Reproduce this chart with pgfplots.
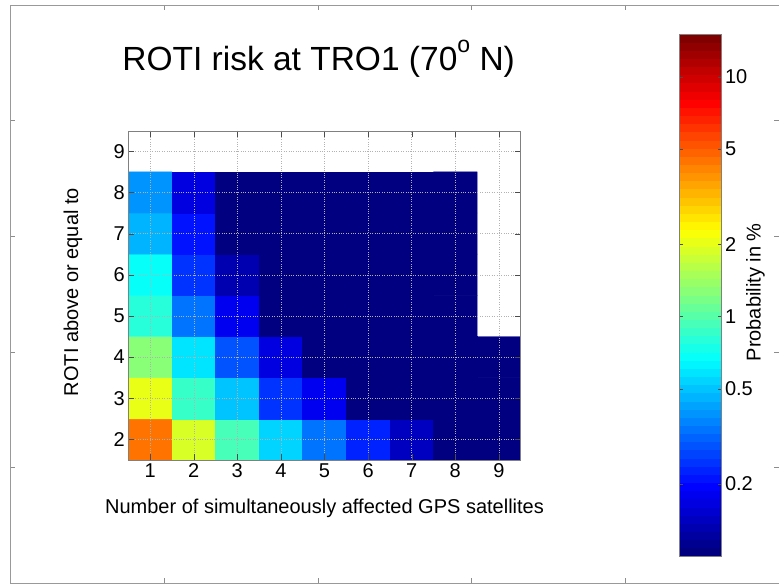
\documentclass[border=0pt]{standalone}
\usepackage{fontspec}
\setmainfont{Liberation Sans}
\usepackage{pgfplots}
\usepackage{pgfplotstable}
\pgfplotsset{compat=1.18}
\pgfplotsset{colormap={jetbase}{rgb255(0cm)=(0,0,128) rgb255(1cm)=(0,0,255) rgb255(3cm)=(0,255,255) rgb255(5cm)=(255,255,0) rgb255(7cm)=(255,0,0) rgb255(8cm)=(128,0,0)}}
\pgfplotsset{colormap={jet64}{samples of colormap={64 of jetbase}}}

% Probability in % ; rows ROTI >= 2..4, satellites 1..9
\pgfplotstableread{
x y p
1 2 4.32
2 2 1.89
3 2 0.93
4 2 0.54
5 2 0.35
6 2 0.22
7 2 0.143
8 2 0.1
9 2 0.1
1 3 2.03
2 3 0.84
3 3 0.48
4 3 0.256
5 3 0.187
6 3 0.1
7 3 0.1
8 3 0.1
9 3 0.1
1 4 1.23
2 4 0.58
3 4 0.278
4 4 0.161
5 4 0.1
6 4 0.1
7 4 0.1
8 4 0.1
9 4 0.1
}\lowrows

% rows ROTI >= 5..8, satellites 1..8
\pgfplotstableread{
x y p
1 5 0.80
2 5 0.338
3 5 0.187
4 5 0.108
5 5 0.1
6 5 0.1
7 5 0.1
8 5 0.1
1 6 0.657
2 6 0.251
3 6 0.136
4 6 0.1
5 6 0.1
6 6 0.1
7 6 0.1
8 6 0.1
1 7 0.477
2 7 0.207
3 7 0.105
4 7 0.1
5 7 0.1
6 7 0.1
7 7 0.1
8 7 0.1
1 8 0.392
2 8 0.166
3 8 0.1
4 8 0.1
5 8 0.1
6 8 0.1
7 8 0.1
8 8 0.1
}\highrows

\begin{document}
\begin{tikzpicture}
\useasboundingbox (0,0) rectangle (779bp,584bp);
% outer frame
\begin{axis}[at={(10bp,1bp)}, anchor=south west, scale only axis,
  width=769bp, height=578bp,
  xmin=0, xmax=5, ymin=0, ymax=5,
  xtick={1,2,3,4}, ytick={1,2,3,4},
  xticklabels={}, yticklabels={},
  tick align=inside, major tick length=5bp,
  axis line style={black!40}, tick style={black!45}]
\end{axis}

\begin{axis}[at={(128.3bp,124bp)}, anchor=south west, scale only axis,
  width=392.4bp, height=329.3bp,
  xmin=0.5, xmax=9.5, ymin=1.5, ymax=9.5,
  xtick={1,...,9}, ytick={2,...,9},
  tick align=inside, major tick length=6bp,
  axis on top,
  xmajorgrids, ymajorgrids,
  grid style={dotted, black!30},
  axis line style={black!50}, tick style={black!70},
  font=\fontsize{20bp}{24bp}\selectfont,
  /pgf/number format/assume math mode=true,
  colormap name=jet64,
  colormap access=piecewise constant,
  point meta min=-1, point meta max=1.18,
  title={ROTI risk at TRO1 (70\raisebox{18bp}{\fontsize{23bp}{23bp}\selectfont o} N)},
  title style={font=\fontsize{33.5bp}{38bp}\selectfont, at={(0.485,1.166)}, anchor=base},
  xlabel={Number of simultaneously affected GPS satellites},
  xlabel style={at={(0.5,-0.161)}, anchor=base},
  ylabel={ROTI above or equal to},
  ylabel style={at={(-0.141,0.51)}, anchor=center},
  colorbar,
  colorbar style={
    at={(parent axis.south east)}, anchor=south west,
    xshift=150bp, yshift=-96bp,
    scale only axis, width=42.3bp, height=522bp,
    ytick={-0.69897,-0.30103,0,0.30103,0.69897,1},
    yticklabels={0.2,0.5,1,2,5,10},
    ytick pos=both, yticklabel pos=right,
    tick align=inside, major tick length=4bp,
    tick style={black!70}, axis line style={black!50},
    font=\fontsize{20bp}{24bp}\selectfont,
    /pgf/number format/assume math mode=true,
    ylabel={Probability in \%},
    ylabel style={at={(1.80,0.505)}, anchor=center},
  },
]
\addplot[matrix plot*, mesh/cols=9, point meta={log10(\thisrow{p})}] table[x=x, y=y] {\lowrows};
\addplot[matrix plot*, mesh/cols=8, point meta={log10(\thisrow{p})}] table[x=x, y=y] {\highrows};
\end{axis}
\end{tikzpicture}
\end{document}
